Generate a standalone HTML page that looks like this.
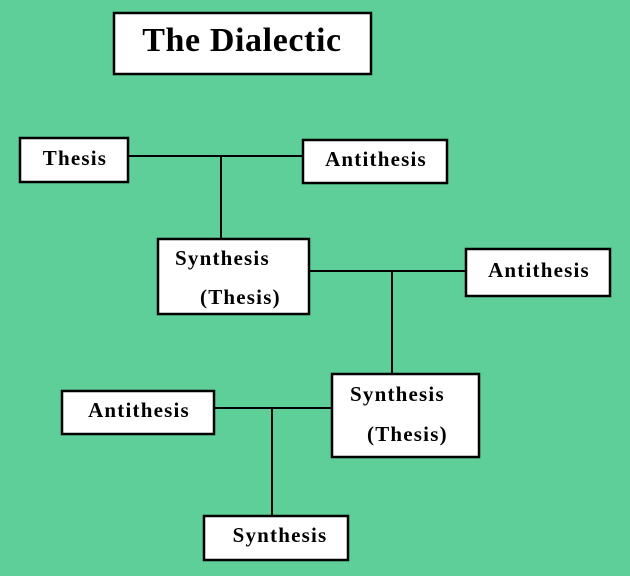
<!DOCTYPE html>
<html><head><style>
html,body{margin:0;padding:0;background:#5fcf9a;}
svg{display:block}
text{font-family:"Liberation Serif",serif;font-weight:bold;fill:#000;letter-spacing:1.2px}
</style></head><body>
<svg width="630" height="576" xmlns="http://www.w3.org/2000/svg">
<rect width="630" height="576" fill="#5fcf9a"/>
<g stroke="#000" stroke-width="2" fill="none">
<line x1="128" y1="156" x2="302" y2="156"/>
<line x1="221" y1="156" x2="221" y2="238"/>
<line x1="309" y1="271" x2="465" y2="271"/>
<line x1="392" y1="271" x2="392" y2="373"/>
<line x1="214" y1="408" x2="331" y2="408"/>
<line x1="272" y1="408" x2="272" y2="515"/>
</g>
<g stroke="#000" stroke-width="2.5" fill="#fff">
<rect x="114" y="13" width="257" height="61"/>
<rect x="20" y="138" width="108" height="44"/>
<rect x="303" y="140" width="144" height="43"/>
<rect x="158" y="239" width="151" height="75"/>
<rect x="466" y="249" width="144" height="47"/>
<rect x="332" y="374" width="147" height="83"/>
<rect x="62" y="391" width="152" height="43"/>
<rect x="204" y="516" width="144" height="44"/>
</g>
<text x="242" y="51" font-size="34" text-anchor="middle" style="letter-spacing:0.6px">The Dialectic</text>
<text x="75" y="165" font-size="21" text-anchor="middle">Thesis</text>
<text x="376" y="166" font-size="21" text-anchor="middle">Antithesis</text>
<text x="175" y="265" font-size="21">Synthesis</text>
<text x="200" y="304" font-size="21">(Thesis)</text>
<text x="539" y="277" font-size="21" text-anchor="middle">Antithesis</text>
<text x="350" y="401" font-size="21">Synthesis</text>
<text x="367" y="441" font-size="21">(Thesis)</text>
<text x="139" y="417" font-size="21" text-anchor="middle">Antithesis</text>
<text x="280" y="542" font-size="21" text-anchor="middle">Synthesis</text>
</svg>
</body></html>
